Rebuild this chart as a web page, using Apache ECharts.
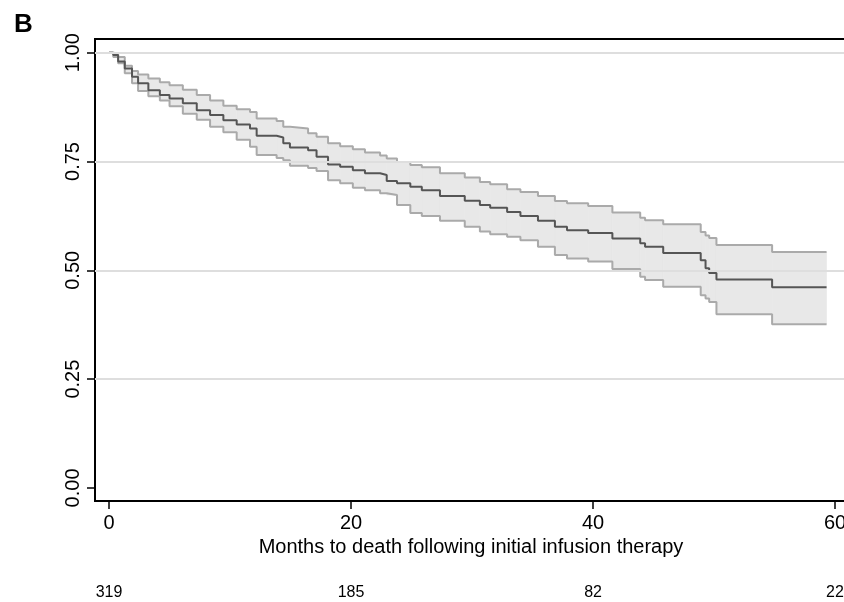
<!DOCTYPE html>
<html>
<head>
<meta charset="utf-8">
<script src="https://cdn.jsdelivr.net/npm/echarts@6/dist/echarts.min.js"></script>
<style>
  html, body { margin: 0; padding: 0; background: #fff; }
  #chart { width: 844px; height: 602px; }
</style>
</head>
<body>
<div id="chart"></div>
<script>
// Kaplan-Meier estimate with 95% band
const months = [0, 0.35, 0.75, 1.3, 1.9, 2.4, 3.25, 4.2, 5.0, 6.1, 7.25, 8.35, 9.45, 10.55, 11.65,
    12.2, 13.85, 14.4, 14.95, 16.45, 17.15, 18.1, 19.1, 20.15, 21.15, 22.4, 22.95, 23.8, 24.9, 25.85,
    27.35, 29.4, 30.65, 31.5, 32.9, 34.0, 35.45, 36.85, 37.85, 39.6, 41.6, 43.9, 44.3, 45.8, 48.9,
    49.3, 49.6, 50.2, 54.8, 59.3];
const survival = [1.000, 0.995, 0.980, 0.964, 0.945, 0.930, 0.914, 0.903, 0.895, 0.884, 0.868, 0.857, 0.845, 0.835, 0.826,
    0.809, 0.805, 0.792, 0.782, 0.776, 0.761, 0.743, 0.738, 0.730, 0.723, 0.719, 0.705, 0.700, 0.692, 0.684,
    0.671, 0.660, 0.650, 0.644, 0.634, 0.625, 0.614, 0.600, 0.592, 0.586, 0.573, 0.562, 0.554, 0.540, 0.523,
    0.505, 0.494, 0.479, 0.461, 0.461];
const upper = [1.000, 0.998, 0.990, 0.970, 0.958, 0.950, 0.941, 0.932, 0.925, 0.915, 0.903, 0.890, 0.878, 0.870, 0.864,
    0.849, 0.843, 0.830, 0.826, 0.815, 0.807, 0.792, 0.785, 0.778, 0.771, 0.764, 0.757, 0.749, 0.742, 0.737,
    0.723, 0.713, 0.703, 0.698, 0.686, 0.680, 0.671, 0.659, 0.654, 0.648, 0.633, 0.621, 0.615, 0.606, 0.588,
    0.580, 0.574, 0.558, 0.542, 0.542];
const lower = [1.000, 0.990, 0.976, 0.953, 0.930, 0.912, 0.900, 0.890, 0.877, 0.860, 0.846, 0.830, 0.817, 0.800, 0.784,
    0.765, 0.758, 0.753, 0.740, 0.735, 0.728, 0.707, 0.700, 0.690, 0.684, 0.677, 0.673, 0.650, 0.632, 0.625,
    0.614, 0.600, 0.589, 0.583, 0.577, 0.569, 0.554, 0.535, 0.527, 0.520, 0.503, 0.485, 0.478, 0.462, 0.443,
    0.435, 0.427, 0.399, 0.376, 0.376];

const xTicks = [0, 20, 40, 60];
const yTicks = [0, 0.25, 0.5, 0.75, 1];
const gridLines = [0.25, 0.5, 0.75, 1];
const riskTimes = [0, 20, 40, 60];
const riskCounts = [319, 185, 82, 22];

const font = 'Liberation Sans, Arial, Helvetica, sans-serif';
const pairs = arr => months.map((m, i) => [m, arr[i]]);
// one band segment per step: [from, to, low, high]
const bandData = months.slice(0, -1).map((m, i) => [m, months[i + 1], lower[i], upper[i]]);

function renderBand(params, api) {
    const p0 = api.coord([api.value(0), api.value(3)]);
    const p1 = api.coord([api.value(1), api.value(2)]);
    return {
        type: 'rect',
        shape: { x: p0[0], y: p0[1], width: p1[0] - p0[0], height: p1[1] - p0[1] },
        style: { fill: '#e8e8e8', stroke: '#e8e8e8', lineWidth: 0.6 }
    };
}

const chart = echarts.init(document.getElementById('chart'));
chart.setOption({
    animation: false,
    backgroundColor: '#fff',
    textStyle: { fontFamily: font },
    title: {
        text: 'B', left: 9, top: 7,
        textStyle: { fontSize: 26, fontWeight: 'bold', color: '#000', fontFamily: font }
    },
    grid: {
        left: 95, right: -3, top: 39, bottom: 101,
        outerBoundsMode: 'none', containLabel: false,
        show: true, borderColor: '#000', borderWidth: 2, backgroundColor: 'transparent'
    },
    xAxis: [{
        type: 'value', min: -1.16, max: 60.99,
        name: 'Months to death following initial infusion therapy',
        nameLocation: 'middle', nameGap: 33,
        nameTextStyle: { fontSize: 20, color: '#000', fontFamily: font },
        axisLine: { show: true, onZero: false, lineStyle: { color: '#000', width: 2 } },
        axisTick: { show: true, length: 8, customValues: xTicks, lineStyle: { color: '#000', width: 1.5 } },
        axisLabel: { customValues: xTicks, fontSize: 20, color: '#000', margin: 12 },
        splitLine: { show: false }
    }, {
        type: 'value', min: -1.16, max: 60.99, position: 'bottom', offset: 76,
        axisLine: { show: false }, axisTick: { show: false }, splitLine: { show: false },
        axisLabel: {
            customValues: riskTimes, fontSize: 16, color: '#000', margin: 8,
            formatter: v => String(riskCounts[riskTimes.indexOf(v)])
        }
    }],
    yAxis: {
        type: 'value', min: -0.03, max: 1.0315,
        axisLine: { show: true, onZero: false, lineStyle: { color: '#000', width: 2 } },
        axisTick: { show: true, length: 8, customValues: yTicks, lineStyle: { color: '#000', width: 1.5 } },
        axisLabel: {
            customValues: yTicks, rotate: 90, fontSize: 20, color: '#000', margin: 12,
            formatter: v => v.toFixed(2)
        },
        splitLine: { show: false }
    },
    series: [
        {
            // grid lines under the band
            type: 'line', data: [], z: 1, silent: true,
            markLine: {
                silent: true, symbol: 'none', label: { show: false },
                lineStyle: { color: '#dedede', width: 2, type: 'solid' },
                data: gridLines.map(v => ({ yAxis: v }))
            }
        },
        {
            name: 'band', type: 'custom', data: bandData, renderItem: renderBand,
            encode: { x: [0, 1], y: [2, 3] }, z: 2, silent: true, clip: true
        },
        {
            name: 'lower', type: 'line', data: pairs(lower), step: 'end', symbol: 'none',
            lineStyle: { color: '#aaaaaa', width: 2 }, z: 3
        },
        {
            name: 'upper', type: 'line', data: pairs(upper), step: 'end', symbol: 'none',
            lineStyle: { color: '#aaaaaa', width: 2 }, z: 3
        },
        {
            name: 'survival', type: 'line', data: pairs(survival), step: 'end', symbol: 'none',
            lineStyle: { color: '#555555', width: 2 }, z: 4
        }
    ]
});
</script>
</body>
</html>
